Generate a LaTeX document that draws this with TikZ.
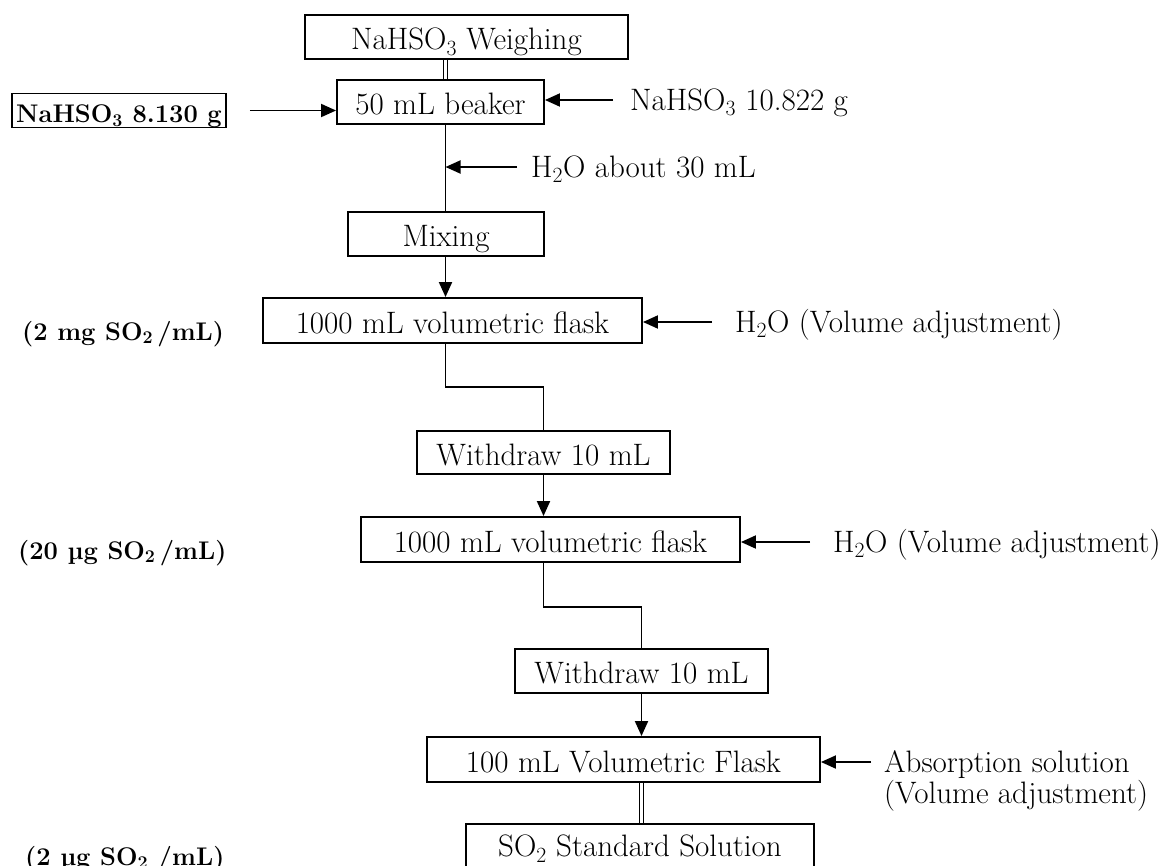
\documentclass[tikz,border=0pt]{standalone}
\usetikzlibrary{arrows.meta}
\begin{document}
\begin{tikzpicture}[x=1pt,y=-1pt,
  every node/.style={inner sep=0pt},
  base/.style={font=\fontsize{31}{36}\selectfont},
  stepbox/.style={base, draw, line width=1.9pt, minimum height=44pt,
    text height=25pt, text depth=0pt},
  note/.style={base, text height=20pt, text depth=0pt, anchor=base west},
  conc/.style={font=\bfseries\fontsize{25.5}{30}\selectfont, anchor=base west},
  flow/.style={line width=1.9pt},
  feed/.style={line width=1.9pt, -{Triangle[length=15pt,width=13pt]}},
  twin/.style={double, double distance=2.5pt, line width=1.5pt}]
\useasboundingbox (0,0) rectangle (1169,865);

% process steps
\node[stepbox, minimum width=323pt] (w1)  at (466.5,37)    {NaHSO\textsubscript{3} Weighing};
\node[stepbox, minimum width=207pt] (bk)  at (440.5,102)   {50 mL beaker};
\node[stepbox, minimum width=196pt] (mx)  at (446,234)     {Mixing};
\node[stepbox, minimum width=379pt, minimum height=45pt] (f1) at (452.5,320.5) {1000 mL volumetric flask};
\node[stepbox, minimum width=253pt, minimum height=43pt] (wd1) at (543.5,452.5) {Withdraw 10 mL};
\node[stepbox, minimum width=379pt, minimum height=45pt] (f2) at (550.5,539.5) {1000 mL volumetric flask};
\node[stepbox, minimum width=253pt] (wd2) at (641.5,671)   {Withdraw 10 mL};
\node[stepbox, minimum width=393pt, minimum height=45pt] (f3) at (623.5,759.5) {100 mL Volumetric Flask};
\node[stepbox, minimum width=348pt, text depth=4pt] (so2) at (640,846) {SO\textsubscript{2} Standard Solution};

% alternative weighed amount
\node[font=\bfseries\fontsize{25.5}{30}\selectfont, draw, line width=1.9pt,
  text height=29pt, text depth=5pt, inner xsep=2pt, minimum width=214pt]
  (nb) at (119,110.5) {NaHSO\textsubscript{3} 8.130 g};

% additions
\node[note] (n10)  at (630,110) {NaHSO\textsubscript{3} 10.822 g};
\node[note] (h2oa) at (531,177) {H\textsubscript{2}O about 30 mL};
\node[note] (h2ob) at (735,332) {H\textsubscript{2}O (Volume adjustment)};
\node[note] (h2oc) at (833,552) {H\textsubscript{2}O (Volume adjustment)};
\node[note] (absa) at (884,772) {Absorption solution};
\node[note] (absb) at (884,803) {(Volume adjustment)};

% concentrations
\node[conc] (c1) at (22,340)  {(2 mg SO\textsubscript{2}\,/mL)};
\node[conc] (c2) at (18,559)  {(20 µg SO\textsubscript{2}\,/mL)};
\node[conc] (c3) at (25,865)  {(2 µg SO\textsubscript{2} /mL)};

% main stem
\coordinate (stem) at (445.5,0);
\draw[twin] (w1.south -| stem) -- (bk.north -| stem);
\draw[flow] (bk.south -| stem) -- (mx.north -| stem);
\draw[feed] (mx.south -| stem) -- (f1.north -| stem);
\draw[flow] (f1.south -| stem) -- ++(0,43) -| (wd1.north);
\draw[feed] (wd1.south) -- (wd1.south |- f2.north);
\draw[flow] (f2.south -| wd1.south) -- ++(0,44) -| (wd2.north);
\draw[feed] (wd2.south) -- (wd2.south |- f3.north);
\draw[twin] (f3.south -| wd2.south) -- (so2.north -| wd2.south);

% feed arrows
\draw[feed, shorten <=23pt] (nb.east) -- (nb.east -| bk.west);
\draw[feed, shorten <=17pt] (n10.west) -- (n10.west -| bk.east);
\draw[feed, shorten <=14pt] (h2oa.west) -- (h2oa.west -| stem);
\draw[feed, shorten <=23pt] (h2ob.west) -- (h2ob.west -| f1.east);
\draw[feed, shorten <=23pt] (h2oc.west) -- (h2oc.west -| f2.east);
\draw[feed, shorten <=13pt] (absa.west) -- (absa.west -| f3.east);
\end{tikzpicture}
\end{document}
